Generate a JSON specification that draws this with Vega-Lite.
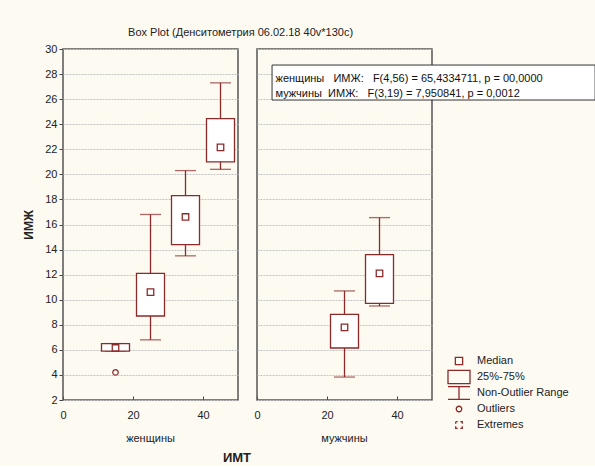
{
  "$schema": "https://vega.github.io/schema/vega-lite/v6.json",
  "background": "#FDFAF2",
  "padding": {"left": 22, "top": 27, "right": 0, "bottom": 0},
  "bounds": "flush",
  "title": {"text": "Box Plot (Денситометрия 06.02.18 40v*130c)", "fontSize": 11, "fontWeight": "normal", "font": "Liberation Sans", "color": "#222", "offset": 5, "anchor": "middle", "dx": -69},
  "data": {"values": [
    {"kind": "box", "sex": "женщины", "bmi": 15, "lo": 5.9, "q1": 5.9, "med": 6.15, "q3": 6.5, "hi": 6.5},
    {"kind": "box", "sex": "женщины", "bmi": 25, "lo": 6.8, "q1": 8.7, "med": 10.6, "q3": 12.1, "hi": 16.8},
    {"kind": "box", "sex": "женщины", "bmi": 35, "lo": 13.5, "q1": 14.4, "med": 16.6, "q3": 18.3, "hi": 20.3},
    {"kind": "box", "sex": "женщины", "bmi": 45, "lo": 20.4, "q1": 21.0, "med": 22.15, "q3": 24.45, "hi": 27.3},
    {"kind": "box", "sex": "мужчины", "bmi": 25, "lo": 3.83, "q1": 6.15, "med": 7.8, "q3": 8.83, "hi": 10.7},
    {"kind": "box", "sex": "мужчины", "bmi": 35, "lo": 9.5, "q1": 9.7, "med": 12.1, "q3": 13.6, "hi": 16.55},
    {"kind": "out", "sex": "женщины", "bmi": 15, "val": 4.2},
    {"kind": "note", "sex": "мужчины", "note": "женщины\u00a0\u00a0\u00a0ИМЖ:\u00a0\u00a0\u00a0F(4,56) = 65,4334711, p = 00,0000\nмужчины\u00a0\u00a0ИМЖ:\u00a0\u00a0\u00a0F(3,19) = 7,950841, p = 0,0012"},
    {"kind": "xt", "sex": "женщины", "label": "ИМТ"},
    {"kind": "leg", "sex": "женщины", "item": "Median"},
    {"kind": "leg", "sex": "женщины", "item": "25%-75%"},
    {"kind": "leg", "sex": "женщины", "item": "Non-Outlier Range"},
    {"kind": "leg", "sex": "женщины", "item": "Outliers"},
    {"kind": "leg", "sex": "женщины", "item": "Extremes"}
  ]},
  "facet": {"column": {"field": "sex", "type": "nominal", "sort": ["женщины", "мужчины"], "title": null,
    "header": {"labelOrient": "bottom", "labelFontSize": 11, "labelFont": "Liberation Sans", "labelColor": "#222", "labelPadding": 13}}},
  "spacing": 19,
  "spec": {
    "width": 175,
    "height": 351,
    "layer": [
      {
        "transform": [{"filter": "datum.kind === 'box'"}],
        "mark": {"type": "rule", "color": "#8C2A2A", "strokeWidth": 1.3},
        "encoding": {
          "x": {"field": "bmi", "type": "quantitative", "scale": {"domain": [0, 50], "padding": 0, "nice": false}, "title": null,
            "axis": {"values": [0, 10, 20, 30, 40, 50], "tickCount": 5, "labelOverlap": false, "labelFlush": false, "labelSeparation": -15}},
          "y": {"field": "lo", "type": "quantitative", "scale": {"domain": [2, 30], "nice": false}, "title": "ИМЖ",
            "axis": {"values": [2, 4, 6, 8, 10, 12, 14, 16, 18, 20, 22, 24, 26, 28, 30], "tickCount": 15, "labelOverlap": false}},
          "y2": {"field": "hi"}
        }
      },
      {
        "transform": [{"filter": "datum.kind === 'box'"}],
        "mark": {"type": "tick", "orient": "horizontal", "color": "#8C2A2A", "size": 21, "thickness": 1.3},
        "encoding": {
          "x": {"field": "bmi", "type": "quantitative", "title": null, "axis": {"values": [0, 10, 20, 30, 40, 50], "tickCount": 5, "labelOverlap": false, "labelFlush": false, "labelSeparation": -15}},
          "y": {"field": "lo", "type": "quantitative", "title": "ИМЖ", "axis": {"values": [2, 4, 6, 8, 10, 12, 14, 16, 18, 20, 22, 24, 26, 28, 30], "tickCount": 15, "labelOverlap": false}}
        }
      },
      {
        "transform": [{"filter": "datum.kind === 'box'"}],
        "mark": {"type": "tick", "orient": "horizontal", "color": "#8C2A2A", "size": 21, "thickness": 1.3},
        "encoding": {
          "x": {"field": "bmi", "type": "quantitative", "title": null, "axis": {"values": [0, 10, 20, 30, 40, 50], "tickCount": 5, "labelOverlap": false, "labelFlush": false, "labelSeparation": -15}},
          "y": {"field": "hi", "type": "quantitative", "title": "ИМЖ", "axis": {"values": [2, 4, 6, 8, 10, 12, 14, 16, 18, 20, 22, 24, 26, 28, 30], "tickCount": 15, "labelOverlap": false}}
        }
      },
      {
        "transform": [{"filter": "datum.kind === 'box'"}],
        "mark": {"type": "bar", "size": 28, "fill": "white", "stroke": "#8C2A2A", "strokeWidth": 1.3},
        "encoding": {
          "x": {"field": "bmi", "type": "quantitative", "title": null, "axis": {"values": [0, 10, 20, 30, 40, 50], "tickCount": 5, "labelOverlap": false, "labelFlush": false, "labelSeparation": -15}},
          "y": {"field": "q1", "type": "quantitative", "title": "ИМЖ", "axis": {"values": [2, 4, 6, 8, 10, 12, 14, 16, 18, 20, 22, 24, 26, 28, 30], "tickCount": 15, "labelOverlap": false}},
          "y2": {"field": "q3"}
        }
      },
      {
        "transform": [{"filter": "datum.kind === 'box'"}],
        "mark": {"type": "point", "shape": "square", "filled": false, "size": 42, "color": "#8C2A2A", "strokeWidth": 1.3, "opacity": 1},
        "encoding": {
          "x": {"field": "bmi", "type": "quantitative", "title": null, "axis": {"values": [0, 10, 20, 30, 40, 50], "tickCount": 5, "labelOverlap": false, "labelFlush": false, "labelSeparation": -15}},
          "y": {"field": "med", "type": "quantitative", "title": "ИМЖ", "axis": {"values": [2, 4, 6, 8, 10, 12, 14, 16, 18, 20, 22, 24, 26, 28, 30], "tickCount": 15, "labelOverlap": false}}
        }
      },
      {
        "transform": [{"filter": "datum.kind === 'out'"}],
        "mark": {"type": "point", "shape": "circle", "filled": false, "size": 30, "color": "#8C2A2A", "strokeWidth": 1.2, "opacity": 1},
        "encoding": {
          "x": {"field": "bmi", "type": "quantitative", "title": null, "axis": {"values": [0, 10, 20, 30, 40, 50], "tickCount": 5, "labelOverlap": false, "labelFlush": false, "labelSeparation": -15}},
          "y": {"field": "val", "type": "quantitative", "title": "ИМЖ", "axis": {"values": [2, 4, 6, 8, 10, 12, 14, 16, 18, 20, 22, 24, 26, 28, 30], "tickCount": 15, "labelOverlap": false}}
        }
      },
      {
        "transform": [{"filter": "datum.kind === 'note'"}],
        "mark": {"type": "rect", "fill": "white", "stroke": "#333", "strokeWidth": 1},
        "encoding": {
          "x": {"datum": 4.3, "title": null, "axis": {"values": [0, 10, 20, 30, 40, 50], "tickCount": 5, "labelOverlap": false, "labelFlush": false, "labelSeparation": -15}},
          "x2": {"datum": 96.6},
          "y": {"datum": 28.72, "title": "ИМЖ", "axis": {"values": [2, 4, 6, 8, 10, 12, 14, 16, 18, 20, 22, 24, 26, 28, 30], "tickCount": 15, "labelOverlap": false}},
          "y2": {"datum": 25.93}
        }
      },
      {
        "transform": [{"filter": "datum.kind === 'note'"}],
        "mark": {"type": "text", "align": "left", "baseline": "middle", "lineBreak": "\n", "lineHeight": 15, "fontSize": 11, "font": "Liberation Sans", "color": "#111"},
        "encoding": {
          "x": {"datum": 5.3, "title": null, "axis": {"values": [0, 10, 20, 30, 40, 50], "tickCount": 5, "labelOverlap": false, "labelFlush": false, "labelSeparation": -15}},
          "y": {"datum": 27.64, "title": "ИМЖ", "axis": {"values": [2, 4, 6, 8, 10, 12, 14, 16, 18, 20, 22, 24, 26, 28, 30], "tickCount": 15, "labelOverlap": false}},
          "text": {"field": "note"}
        }
      },
      {
        "transform": [{"filter": "datum.kind === 'xt'"}],
        "mark": {"type": "text", "align": "center", "baseline": "middle", "fontSize": 13, "fontWeight": "bold", "font": "Liberation Sans", "color": "#222"},
        "encoding": {
          "x": {"datum": 49.7, "title": null, "axis": {"values": [0, 10, 20, 30, 40, 50], "tickCount": 5, "labelOverlap": false, "labelFlush": false, "labelSeparation": -15}},
          "y": {"datum": -2.63, "title": "ИМЖ", "axis": {"values": [2, 4, 6, 8, 10, 12, 14, 16, 18, 20, 22, 24, 26, 28, 30], "tickCount": 15, "labelOverlap": false}},
          "text": {"field": "label"}
        }
      },
      {
        "transform": [{"filter": "datum.kind === 'leg'"}],
        "mark": {"type": "point", "opacity": 0, "filled": false, "color": "#8C2A2A"},
        "encoding": {
          "shape": {"field": "item", "type": "nominal",
            "scale": {"domain": ["Median", "25%-75%", "Non-Outlier Range", "Outliers", "Extremes"],
              "range": [
                "M-0.33,-0.33H0.33V0.33H-0.33Z",
                "M-1,-0.6H1V0.6H-1Z",
                "M-1,-0.58H1M0,-0.58V0.58M-1,0.58H1",
                "M0.25,0A0.25,0.25 0 1 1 -0.25,0A0.25,0.25 0 1 1 0.25,0",
                "M-0.3,-0.3H-0.12M0.12,-0.3H0.3V-0.12M0.3,0.12V0.3H0.12M-0.12,0.3H-0.3V0.12M-0.3,-0.12V-0.3"
              ]},
            "legend": {"title": null, "orient": "none", "legendX": 384, "legendY": 304, "symbolSize": 484, "symbolStrokeColor": "#8C2A2A", "symbolFillColor": "transparent", "symbolStrokeWidth": 1.3, "symbolOpacity": 1, "labelFontSize": 11, "labelFont": "Liberation Sans", "labelColor": "#222", "rowPadding": 0, "clipHeight": 16, "labelOffset": 6}}
        }
      }
    ]
  },
  "config": {
    "view": {"stroke": "#555", "strokeWidth": 1.5, "fill": "white"},
    "font": "Liberation Sans",
    "axisX": {"grid": false, "domain": false, "tickSize": -4, "tickColor": "#444", "labelPadding": 13, "labelOverlap": false, "labelFlush": false, "labelBound": false, "labelSeparation": -15, "labelFontSize": 11, "labelFont": "Liberation Sans", "labelColor": "#222"},
    "axisY": {"grid": true, "gridColor": "#c4c4c4", "gridDash": [2, 1], "domain": false, "tickSize": 4, "tickColor": "#444", "labelPadding": 2, "labelOverlap": false, "labelFlush": false, "labelFontSize": 11, "labelFont": "Liberation Sans", "labelColor": "#222", "titleFontSize": 12, "titleFont": "Liberation Sans", "titleFontWeight": "bold", "titleColor": "#222", "titlePadding": 9}
  }
}
